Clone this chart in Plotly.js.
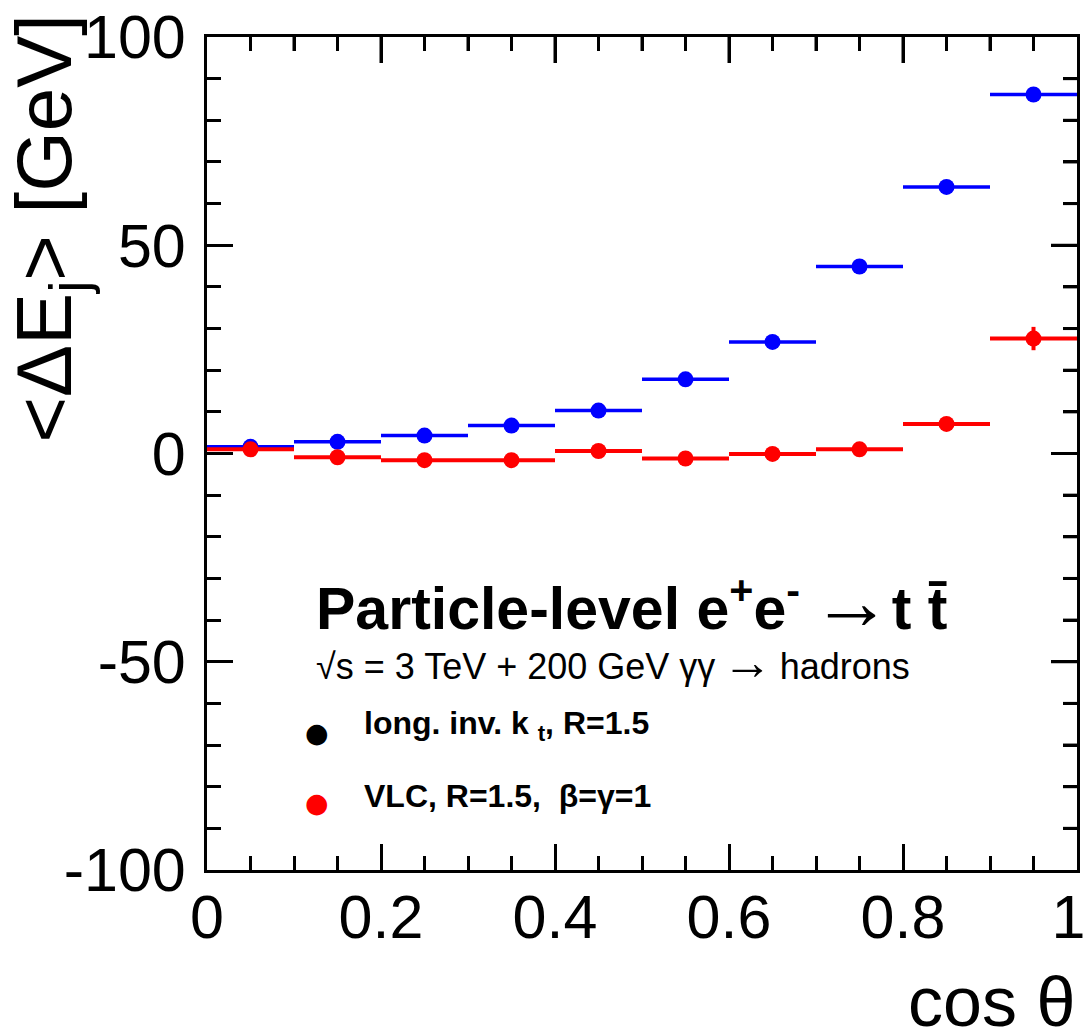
<!DOCTYPE html>
<html><head><meta charset="utf-8">
<script src="https://cdn.plot.ly/plotly-3.0.1.min.js"></script>
<style>body{margin:0;background:#fff}#plot{width:1090px;height:1031px}</style>
</head><body><div id="plot"></div><script>
// bin centres in cos(theta) and half bin widths
const cosTheta = [0.05, 0.15, 0.25, 0.35, 0.45, 0.55, 0.65, 0.75, 0.85, 0.95];
const binHalfWidth = [0.05, 0.05, 0.05, 0.05, 0.05, 0.05, 0.05, 0.05, 0.05, 0.05];
// long. inv. kt, R=1.5  (blue)
const ktValues = [1.6, 2.8, 4.3, 6.7, 10.3, 17.8, 26.8, 44.9, 64.0, 86.2];
const ktErrors = [0.3, 0.3, 0.3, 0.3, 0.4, 0.5, 0.6, 0.7, 0.9, 1.2];
// VLC, R=1.5, beta=gamma=1  (red)
const vlcValues = [1.0, -0.9, -1.6, -1.6, 0.6, -1.2, -0.1, 1.0, 7.1, 27.6];
const vlcErrors = [0.3, 0.3, 0.3, 0.3, 0.4, 0.4, 0.5, 0.6, 0.9, 2.8];
const xRange = [0, 1];
const yRange = [-100, 100];
const xTickVals = [0, 0.2, 0.4, 0.6, 0.8, 1];
const xTickText = ['0', '0.2', '0.4', '0.6', '0.8', '1\u00a0'];
const yTickVals = [-100, -50, 0, 50, 100];
const yTickText = ['-100', '-50', '0', '50', '100'];
// tick positions for the mirrored (top / right) ticks
const xMajorInner = [0.2, 0.4, 0.6, 0.8];
const xMinorTicks = [0.05, 0.1, 0.15, 0.25, 0.3, 0.35, 0.45, 0.5, 0.55, 0.65, 0.7, 0.75, 0.85, 0.9, 0.95];
const yMajorInner = [-50, 0, 50];
const yMinorTicks = [-90, -80, -70, -60, -40, -30, -20, -10, 10, 20, 30, 40, 60, 70, 80, 90];

const FONT = 'Liberation Sans, Arial, Helvetica, sans-serif';

const traces = [
  {x: cosTheta, y: ktValues, type: 'scatter', mode: 'markers', marker: {color: '#0000ff', size: 16},
   error_x: {type: 'data', array: binHalfWidth, color: '#0000ff', thickness: 3.5, width: 0},
   error_y: {type: 'data', array: ktErrors, color: '#0000ff', thickness: 3.5, width: 0}},
  {x: cosTheta, y: vlcValues, type: 'scatter', mode: 'markers', marker: {color: '#ff0000', size: 16},
   error_x: {type: 'data', array: binHalfWidth, color: '#ff0000', thickness: 4, width: 0},
   error_y: {type: 'data', array: vlcErrors, color: '#ff0000', thickness: 4, width: 0}}
];

const MAJ = 26, MIN = 14;
const tickLine = {color: '#000', width: 3};
const shapes = [];
xMajorInner.forEach(v => shapes.push({type: 'line', xref: 'x', yref: 'paper', ysizemode: 'pixel', yanchor: 1,
  x0: v, x1: v, y0: 0, y1: -MAJ, line: tickLine}));
xMinorTicks.forEach(v => shapes.push({type: 'line', xref: 'x', yref: 'paper', ysizemode: 'pixel', yanchor: 1,
  x0: v, x1: v, y0: 0, y1: -MIN, line: tickLine}));
yMajorInner.forEach(v => shapes.push({type: 'line', xref: 'paper', yref: 'y', xsizemode: 'pixel', xanchor: 1,
  y0: v, y1: v, x0: 0, x1: -MAJ, line: tickLine}));
yMinorTicks.forEach(v => shapes.push({type: 'line', xref: 'paper', yref: 'y', xsizemode: 'pixel', xanchor: 1,
  y0: v, y1: v, x0: 0, x1: -MIN, line: tickLine}));

const tickCommon = {showgrid: false, zeroline: false, showline: true, linecolor: '#000', linewidth: 3,
  ticks: 'inside', ticklen: MAJ, tickwidth: 3, tickcolor: '#000', mirror: 'ticks', automargin: false};
const tickFont = {family: FONT, size: 61, color: '#000'};

const layout = {
  width: 1090, height: 1031,
  margin: {l: 207, r: 13, t: 37, b: 161, pad: 0, autoexpand: false},
  showlegend: false,
  xaxis: Object.assign({}, tickCommon, {range: xRange, tickvals: xTickVals, ticktext: xTickText,
    minor: {dtick: 0.05, ticks: 'inside', ticklen: MIN, tickwidth: 3, tickcolor: '#000'},
    tickfont: tickFont, ticklabelstandoff: -8, ticklabeloverflow: 'allow'}),
  yaxis: Object.assign({}, tickCommon, {range: yRange, tickvals: yTickVals, ticktext: yTickText,
    minor: {dtick: 10, ticks: 'inside', ticklen: MIN, tickwidth: 3, tickcolor: '#000'},
    tickfont: tickFont, ticklabelstandoff: 6}),
  shapes: shapes,
  annotations: [
    {xref: 'paper', yref: 'paper', x: -0.1805, y: 0.770, xanchor: 'center', yanchor: 'middle',
     textangle: -90, showarrow: false,
     text: '&lt;ΔE<sub>j</sub>&gt; [GeV]', font: {family: FONT, size: 78, color: '#000'}},
    {xref: 'paper', yref: 'paper', x: 1.0, y: -0.159, xanchor: 'right', yanchor: 'middle',
     showarrow: false, text: 'cos θ', font: {family: FONT, size: 70, color: '#000'}},
    {xref: 'paper', yref: 'paper', x: 0.123, y: 0.322, xanchor: 'left', yanchor: 'middle',
     showarrow: false,
     text: '<b>Particle-level e<sup>+</sup>e<sup>-</sup>\u2009<span style="font-weight:normal;font-size:80px">→</span>t t\u0304</b>',
     font: {family: FONT, size: 59, color: '#000'}},
    {xref: 'paper', yref: 'paper', x: 0.123, y: 0.25, xanchor: 'left', yanchor: 'middle',
     showarrow: false,
     text: '√s = 3 TeV + 200 GeV γγ\u2009<span style="font-size:50px">→</span>\u2009hadrons',
     font: {family: FONT, size: 36, color: '#000'}},
    {xref: 'paper', yref: 'paper', x: 0.1264, y: 0.1645, xanchor: 'center', yanchor: 'middle',
     showarrow: false, text: '●', font: {family: 'DejaVu Sans', size: 27, color: '#000'}},
    {xref: 'paper', yref: 'paper', x: 0.178, y: 0.173, xanchor: 'left', yanchor: 'middle',
     showarrow: false, text: '<b>long. inv. k <sub>t</sub>, R=1.5</b>',
     font: {family: FONT, size: 32, color: '#000'}},
    {xref: 'paper', yref: 'paper', x: 0.1264, y: 0.0816, xanchor: 'center', yanchor: 'middle',
     showarrow: false, text: '●', font: {family: 'DejaVu Sans', size: 27, color: '#ff0000'}},
    {xref: 'paper', yref: 'paper', x: 0.178, y: 0.089, xanchor: 'left', yanchor: 'middle',
     showarrow: false, text: '<b>VLC, R=1.5,  β=γ=1</b>',
     font: {family: FONT, size: 32, color: '#000'}}
  ]
};

Plotly.newPlot('plot', traces, layout, {displayModeBar: false, staticPlot: true});
</script></body></html>
